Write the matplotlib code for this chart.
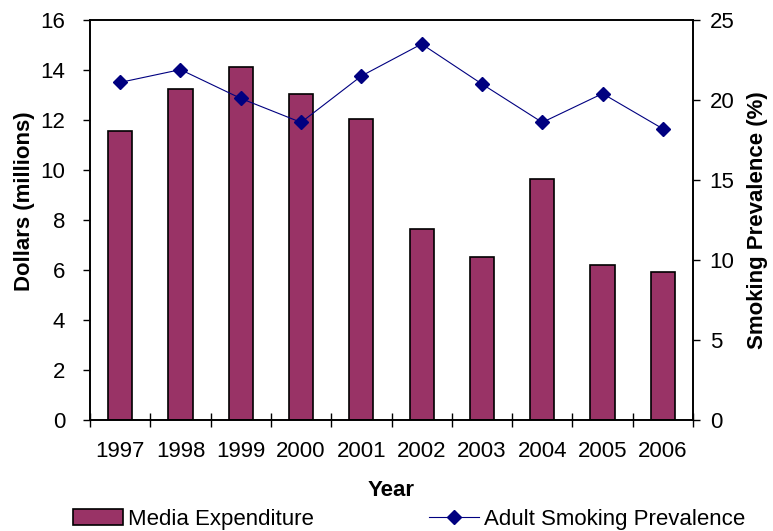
import matplotlib
matplotlib.use("Agg")
import matplotlib.pyplot as plt
from matplotlib.ticker import FixedLocator, NullFormatter

plt.rcParams['font.family'] = ['Liberation Sans', 'DejaVu Sans']

# Yearly media spend (left axis) and adult smoking rate (right axis)
years = ['1997', '1998', '1999', '2000', '2001', '2002', '2003', '2004', '2005', '2006']
media_spend = [11.55, 13.23, 14.13, 13.04, 12.05, 7.63, 6.52, 9.64, 6.20, 5.93]
smoking_rate = [21.1, 21.9, 20.1, 18.6, 21.5, 23.5, 21.0, 18.6, 20.4, 18.2]

bar_color = '#993366'
line_color = '#000080'
fs = 16

W, H = 773, 531
fig = plt.figure(figsize=(W / 100, H / 100), dpi=100)
ax = fig.add_axes([90 / W, 1 - 420 / H, 603 / W, 400 / H])
ax2 = ax.twinx()

x = list(range(len(years)))
bars = ax.bar(x, media_spend, width=0.4, color=bar_color,
              edgecolor='black', linewidth=1.2, label='Media Expenditure')
line, = ax2.plot(x, smoking_rate, color=line_color, linewidth=0.8,
                 marker='D', markersize=7.5, markerfacecolor=line_color,
                 markeredgecolor=line_color, label='Adult Smoking Prevalence')

ax.set_xlim(-0.5, len(years) - 0.5)
ax.set_ylim(0, 16)
ax2.set_ylim(0, 25)
ax.set_yticks(range(0, 17, 2))
ax2.set_yticks(range(0, 26, 5))

# category labels centred, tick marks between categories
ax.set_xticks(x)
ax.set_xticklabels(years)
ax.xaxis.set_minor_locator(FixedLocator([i - 0.5 for i in range(len(years) + 1)]))
ax.xaxis.set_minor_formatter(NullFormatter())
ax.tick_params(axis='x', which='major', length=0, pad=15, labelsize=fs)
ax.tick_params(axis='x', which='minor', direction='inout', length=10, width=1)
ax.tick_params(axis='y', direction='out', length=5, width=1, pad=13, labelsize=fs)
ax2.tick_params(axis='y', direction='out', length=5, width=1, pad=7, labelsize=fs)

for a in (ax, ax2):
    for s in a.spines.values():
        s.set_linewidth(1.2)

fig.text(25 / W, 1 - 201 / H, 'Dollars (millions)', rotation=90,
         ha='center', va='center', fontsize=fs, fontweight='bold')
fig.text(758 / W, 1 - 220 / H, 'Smoking Prevalence (%)', rotation=90,
         ha='center', va='center', fontsize=fs, fontweight='bold')
fig.text(391.5 / W, 1 - 491 / H, 'Year', ha='center', va='center',
         fontsize=fs, fontweight='bold')

fig.legend([bars, line], ['Media Expenditure', 'Adult Smoking Prevalence'],
           loc='center left', bbox_to_anchor=(73 / W, 1 - 519 / H), ncol=2,
           frameon=False, fontsize=fs, borderpad=0, borderaxespad=0,
           handlelength=2.25, handleheight=0.72, handletextpad=0.22,
           columnspacing=5.2)

fig.savefig('out.png', dpi=100)
